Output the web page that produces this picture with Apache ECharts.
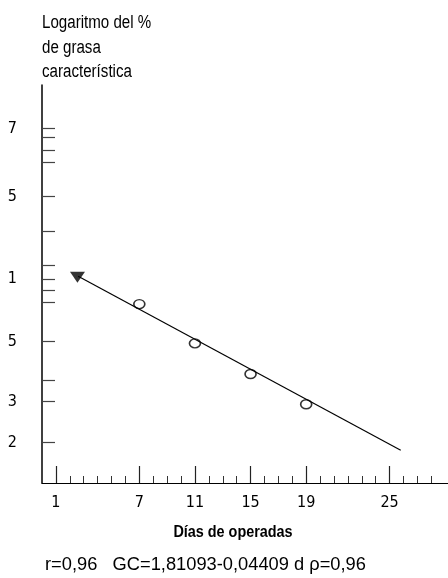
<!DOCTYPE html>
<html>
<head>
<meta charset="utf-8">
<script src="https://cdn.jsdelivr.net/npm/echarts@6/dist/echarts.min.js"></script>
<style>html,body{margin:0;padding:0;background:#fff;}#c{width:448px;height:578px;}</style>
</head>
<body>
<div id="c"></div>
<script>
// Data
const days = [7, 11, 15, 19];
const logGrasa = [1.533, 1.302, 1.122, 0.944];
const regressionDays = [2.6, 25.8];
const regressionValues = [1.696, 0.673];
const startMarkerDay = [2.55];
const startMarkerValue = [1.69];
// Axis ticks and labels
const xMajorTicks = [1, 7, 11, 15, 19, 25];
const xMinorTicks = [2, 3, 4, 5, 6, 8, 9, 10, 12, 13, 14, 16, 17, 18, 20, 21, 22, 23, 24, 26, 27, 28];
const yTickValues = [2.566, 2.511, 2.439, 2.364, 2.164, 1.963, 1.759, 1.680, 1.616, 1.541, 1.312, 1.087, 0.959, 0.720];
const yLabelValues = [2.566, 2.164, 1.680, 1.312, 0.959, 0.720];
const yLabelTexts = ['7', '5', '1', '5', '3', '2'];

const NARROW = '"Liberation Sans Narrow", "DejaVu Sans Condensed", sans-serif';
const SANS = '"Liberation Sans", Arial, sans-serif';
const chart = echarts.init(document.getElementById('c'), null, {renderer: 'canvas'});
const yLabelMap = {};
yLabelValues.forEach((v, i) => { yLabelMap[v.toFixed(3)] = yLabelTexts[i]; });

chart.setOption({
  animation: false,
  backgroundColor: '#fff',
  grid: {left: 42, right: 0, top: 85, bottom: 95, containLabel: false},
  xAxis: [{
    type: 'value', min: 0, max: 29.2, position: 'bottom',
    axisLine: {show: true, onZero: false, lineStyle: {color: '#000', width: 1.2}},
    axisTick: {show: true, inside: true, length: 7, customValues: xMinorTicks, lineStyle: {color: '#333', width: 1}},
    axisLabel: {show: false},
    splitLine: {show: false}
  }, {
    type: 'value', min: 0, max: 29.2, position: 'bottom',
    axisLine: {show: false, onZero: false},
    axisTick: {show: true, inside: true, length: 17, customValues: xMajorTicks, lineStyle: {color: '#222', width: 1.2}},
    axisLabel: {show: true, customValues: xMajorTicks, margin: 12, color: '#000', fontSize: 16, fontFamily: NARROW},
    splitLine: {show: false}
  }],
  yAxis: {
    type: 'value', min: 0.481, max: 2.821,
    axisLine: {show: true, onZero: false, lineStyle: {color: '#000', width: 1.5}},
    axisTick: {show: true, inside: true, length: 13, customValues: yTickValues, lineStyle: {color: '#444', width: 1.2}},
    axisLabel: {show: true, customValues: yLabelValues, margin: 25, color: '#000', fontSize: 16, fontFamily: NARROW,
      formatter: v => yLabelMap[Number(v).toFixed(3)] || ''},
    splitLine: {show: false}
  },
  series: [{
    type: 'line', xAxisIndex: 0,
    data: regressionDays.map((d, i) => [d, regressionValues[i]]),
    showSymbol: false, symbol: 'none',
    lineStyle: {color: '#000', width: 1.2}
  }, {
    type: 'scatter', xAxisIndex: 0,
    data: startMarkerDay.map((d, i) => [d, startMarkerValue[i]]),
    symbol: 'triangle', symbolRotate: 180, symbolSize: [15, 11],
    itemStyle: {color: '#000'}
  }, {
    type: 'scatter', xAxisIndex: 0,
    data: days.map((d, i) => [d, logGrasa[i]]),
    symbol: 'circle', symbolSize: [11, 9],
    itemStyle: {color: '#fff', borderColor: '#000', borderWidth: 1.5}
  }],
  graphic: [{
    type: 'text', x: 42, y: 11, scaleX: 0.84,
    style: {text: 'Logaritmo del %\nde grasa\ncaracterística', fontSize: 18, lineHeight: 24.5, fontFamily: SANS, fill: '#000'}
  }, {
    type: 'text', x: 233, y: 533, scaleX: 0.9,
    style: {text: 'Días de operadas', fontSize: 16, fontWeight: 'bold', fontFamily: SANS, fill: '#000', align: 'center', verticalAlign: 'middle'}
  }, {
    type: 'text', x: 45, y: 565,
    style: {text: 'r=0,96   GC=1,81093-0,04409 d ρ=0,96', fontSize: 18.3, fontFamily: SANS, fill: '#000', verticalAlign: 'middle'}
  }]
});
</script>
</body>
</html>
